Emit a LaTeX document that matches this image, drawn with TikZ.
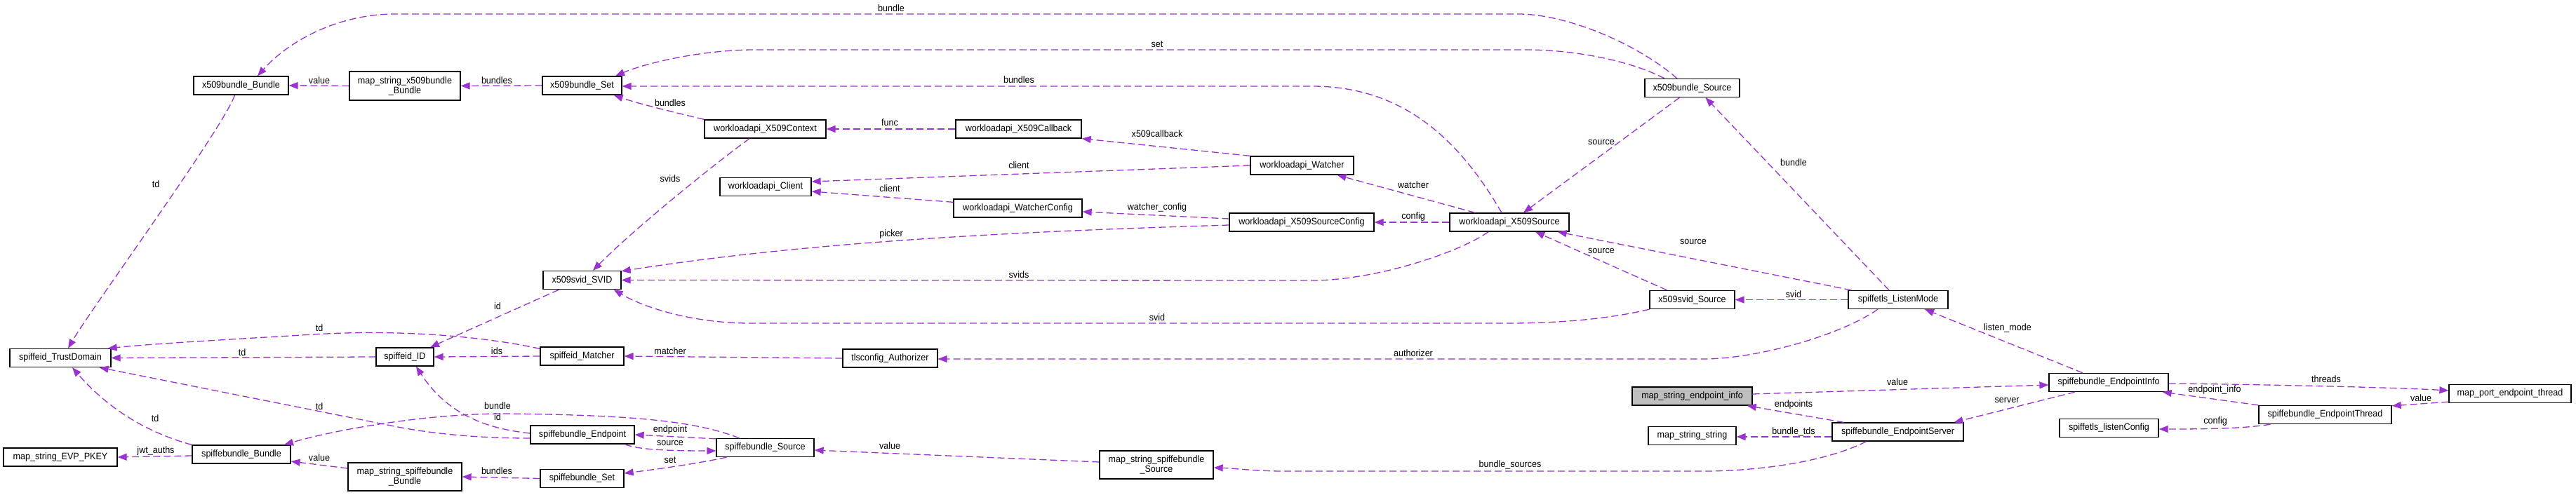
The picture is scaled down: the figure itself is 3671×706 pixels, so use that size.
\documentclass[tikz,border=0pt]{standalone}
\usepackage{fontspec}
\setmainfont{Liberation Sans}[FakeStretch=0.93]
\usetikzlibrary{arrows.meta,calc}
\definecolor{edgecol}{HTML}{9A32CD}
\definecolor{grayfill}{HTML}{BFBFBF}
\newcommand\diafont{\fontsize{13.5}{14}\selectfont}
\tikzset{
  cls/.style={draw=black, line width=1.3pt, fill=white, minimum height=26pt, inner sep=0pt, align=center, font=\diafont},
  edge/.style={draw=edgecol, line width=1.3pt, dash pattern=on 10pt off 5pt, -{Triangle[length=13pt,width=10pt,fill=edgecol]}},
  lbl/.style={inner sep=0pt, font=\diafont}
}
\begin{document}
\begin{tikzpicture}[x=1pt,y=-1pt]
\useasboundingbox (0,0) rectangle (3671,706);
% nodes
\node[cls, minimum width=135] (xbb) at (343.5,122) {x509bundle\_Bundle};
\node[cls, minimum width=158, minimum height=41] (msxb) at (577,122.5) {map\_string\_x509bundle\\\_Bundle};
\node[cls, minimum width=113] (xbs) at (829.5,122) {x509bundle\_Set};
\node[cls, minimum width=135] (xbsrc) at (2411.5,125.5) {x509bundle\_Source};
\node[cls, minimum width=173] (wctx) at (1090.5,184) {workloadapi\_X509Context};
\node[cls, minimum width=179] (wcb) at (1451.5,184) {workloadapi\_X509Callback};
\node[cls, minimum width=130] (wcl) at (1091,266.5) {workloadapi\_Client};
\node[cls, minimum width=183] (wwc) at (1450.5,297) {workloadapi\_WatcherConfig};
\node[cls, minimum width=147] (ww) at (1855.5,236) {workloadapi\_Watcher};
\node[cls, minimum width=206] (wsc) at (1855,317) {workloadapi\_X509SourceConfig};
\node[cls, minimum width=170] (wxs) at (2151,317) {workloadapi\_X509Source};
\node[cls, minimum width=111] (svid) at (829.5,399.5) {x509svid\_SVID};
\node[cls, minimum width=121] (xss) at (2411.5,427.5) {x509svid\_Source};
\node[cls, minimum width=142] (lm) at (2705,427.5) {spiffetls\_ListenMode};
\node[cls, minimum width=144] (td) at (86,510.5) {spiffeid\_TrustDomain};
\node[cls, minimum width=82] (sid) at (577,509) {spiffeid\_ID};
\node[cls, minimum width=119] (mat) at (829.5,508) {spiffeid\_Matcher};
\node[cls, minimum width=135] (auth) at (1268.5,511) {tlsconfig\_Authorizer};
\node[cls, minimum width=171, fill=grayfill] (msei) at (2411.5,565) {map\_string\_endpoint\_info};
\node[cls, minimum width=170] (sei) at (3005,545.5) {spiffebundle\_EndpointInfo};
\node[cls, minimum width=174] (mpet) at (3577,561.5) {map\_port\_endpoint\_thread};
\node[cls, minimum width=189] (set) at (3313.5,591.5) {spiffebundle\_EndpointThread};
\node[cls, minimum width=141] (slc) at (3005.5,610.5) {spiffetls\_listenConfig};
\node[cls, minimum width=148] (sep) at (830,620) {spiffebundle\_Endpoint};
\node[cls, minimum width=187] (ses) at (2704.5,616) {spiffebundle\_EndpointServer};
\node[cls, minimum width=125] (mss) at (2411.5,621.5) {map\_string\_string};
\node[cls, minimum width=139] (sbs) at (1090.5,638.5) {spiffebundle\_Source};
\node[cls, minimum width=140] (sbb) at (344,648) {spiffebundle\_Bundle};
\node[cls, minimum width=162] (mevp) at (86,652) {map\_string\_EVP\_PKEY};
\node[cls, minimum width=162, minimum height=40] (mssb) at (577,680) {map\_string\_spiffebundle\\\_Bundle};
\node[cls, minimum width=119] (sbset) at (829.5,682.5) {spiffebundle\_Set};
\node[cls, minimum width=162, minimum height=40] (msss) at (1648,663) {map\_string\_spiffebundle\\\_Source};
% edges
\draw[edge] (msxb.west) -- (xbb.east);
\draw[edge] (xbs.west) -- (msxb.east);
\draw[edge] ([xshift=-21.5]xbsrc.north) .. controls (2330,60) and (2230,20) .. (2164,20) -- (563,20) .. controls (480,20) and (410,60) .. ([xshift=23.5]xbb.north);
\draw[edge] ([xshift=-39.5]xbsrc.north) .. controls (2320,85) and (2240,71) .. (2175,71) -- (1076,71) .. controls (1000,71) and (920,90) .. ([xshift=47.5]xbs.north);
\draw[edge] ([xshift=-11]wxs.north) .. controls (2080,200) and (2000,123) .. (1870,123) -- ([yshift=-1]xbs.east);
\draw[edge] (wctx.north west) .. controls (960,160) and (910,148) .. ([xshift=-12]xbs.south east);
\draw[edge] ([xshift=-22.5]wctx.south) .. controls (1010,240) and (900,330) .. ([xshift=15.5]svid.north);
\draw[edge] (wcb.west) -- (wctx.east);
\draw[edge] (ww.north west) -- (wcb.south east);
\draw[edge] (ww.west) -- ([yshift=7.5]wcl.east);
\draw[edge] ([yshift=-5]wwc.north west) -- ([yshift=-6.5]wcl.east);
\draw[edge] ([yshift=5]wsc.west) -- ([yshift=-5]wwc.east);
\draw[edge] ([yshift=-4]wsc.west) .. controls (1450,330) and (1150,345) .. ([yshift=-1]svid.north east);
\draw[edge] ([xshift=-49]wxs.north) -- ([xshift=50]ww.south);
\draw[edge] (wxs.west) -- (wsc.east);
\draw[edge] ([xshift=-18]xbsrc.south) -- ([xshift=20]wxs.north);
\draw[edge] ([xshift=-30]wxs.south) .. controls (2080,360) and (1960,400) .. (1870,400) -- (svid.east);
\draw[edge] ([xshift=-36]xss.north) -- ([xshift=37]wxs.south);
\draw[edge] ([xshift=5]lm.north west) -- ([xshift=-17]wxs.south east);
\draw[edge] ([xshift=-13]lm.north) -- ([xshift=19]xbsrc.south);
\draw[edge] (xss.south west) .. controls (2280,458) and (2200,461) .. (2150,461) -- (1070,461) .. controls (990,461) and (920,440) .. ([xshift=-11]svid.south east);
\draw[edge] (lm.west) -- (xss.east);
\draw[edge] ([xshift=-29]lm.south) .. controls (2620,480) and (2500,512) .. (2428,512) -- ([yshift=-1]auth.east);
\draw[edge] (auth.west) -- (mat.east);
\draw[edge] (mat.west) -- (sid.east);
\draw[edge] ([yshift=-3]mat.north west) .. controls (680,478) and (560,470) .. (446,477) .. controls (330,484) and (220,490) .. ([xshift=-5]td.north east);
\draw[edge] (sid.west) -- (td.east);
\draw[edge] ([xshift=-33]svid.south) -- ([xshift=36]sid.north);
\draw[edge] ([yshift=-5]sep.west) .. controls (690,625) and (620,620) .. (557,607) -- ([xshift=-17]td.south east);
\draw[edge] (sbb.north west) .. controls (220,620) and (160,590) .. ([xshift=17]td.south);
\draw[edge] ([yshift=2]sep.west) .. controls (700,612) and (640,595) .. ([xshift=16]sid.south);
\draw[edge] ([xshift=-37]sbs.north) .. controls (990,600) and (900,592) .. (720,590) .. controls (600,590) and (470,615) .. ([xshift=61]sbb.north);
\draw[edge] ([yshift=-2]sbb.west) -- (mevp.east);
\draw[edge] ([yshift=12]mssb.west) -- ([yshift=-10]sbb.east);
\draw[edge] (sbset.west) -- (mssb.east);
\draw[edge] ([yshift=-1]sbs.north west) -- (sep.east);
\draw[edge] ([xshift=-14]sep.south east) .. controls (910,642) and (960,643) .. ([yshift=-4.5]sbs.west);
\draw[edge] ([xshift=-55]sbs.south) .. controls (990,662) and (930,670) .. ([yshift=7.5]sbset.east);
\draw[edge] ([yshift=4]msss.west) -- ([yshift=-3.5]sbs.east);
\draw[edge] ([xshift=-45]ses.south) .. controls (2600,660) and (2500,672) .. (2428,672) -- (1830,672) .. controls (1790,672) and (1760,668) .. ([yshift=-4]msss.east);
\draw[edge] ([xshift=-77]ses.north) -- ([xshift=-8]msei.south east);
\draw[edge] ([yshift=-7]ses.west) -- ([yshift=-1.5]mss.east);
\draw[edge] ([yshift=3]msei.east) -- ([yshift=-3.5]sei.west);
\draw[edge] ([xshift=-48]sei.south) -- ([xshift=80]ses.north);
\draw[edge] ([xshift=-37]sei.north) -- ([xshift=38]lm.south);
\draw[edge] ([yshift=-1.5]sei.east) .. controls (3200,548) and (3400,552) .. ([yshift=4.5]mpet.west);
\draw[edge] (set.north west) -- ([xshift=-9]sei.south east);
\draw[edge] ([yshift=2]mpet.south west) -- ([yshift=-1]set.north east);
\draw[edge] ([xshift=-78]set.south) .. controls (3200,611) and (3150,612) .. ([yshift=-1.5]slc.east);
\draw[edge] ([xshift=-9]xbb.south) .. controls (320,180) and (130,440) .. ([xshift=11]td.north);
% labels
\node[lbl] (l1) at (455,115) {value};
\node[lbl] (l2) at (708,115) {bundles};
\node[lbl] (l3) at (1270,12) {bundle};
\node[lbl] (l4) at (1649,63) {set};
\node[lbl] (l5) at (1452,114) {bundles};
\node[lbl] (l6) at (955,147) {bundles};
\node[lbl] (l7) at (955,255) {svids};
\node[lbl] (l8) at (1268,175) {func};
\node[lbl] (l9) at (1649,191) {x509callback};
\node[lbl] (l10) at (1452,236) {client};
\node[lbl] (l11) at (1268,269) {client};
\node[lbl] (l12) at (1649,296) {watcher\_config};
\node[lbl] (l13) at (1270,334) {picker};
\node[lbl] (l14) at (2014,264) {watcher};
\node[lbl] (l15) at (2014,309) {config};
\node[lbl] (l16) at (2282,203) {source};
\node[lbl] (l17) at (1452,392) {svids};
\node[lbl] (l18) at (2282,358) {source};
\node[lbl] (l19) at (2413,345) {source};
\node[lbl] (l20) at (2556,232) {bundle};
\node[lbl] (l21) at (1649,453) {svid};
\node[lbl] (l22) at (2556,420) {svid};
\node[lbl] (l23) at (2014,504) {authorizer};
\node[lbl] (l24) at (955,501) {matcher};
\node[lbl] (l25) at (708,501) {ids};
\node[lbl] (l26) at (455,468) {td};
\node[lbl] (l27) at (345,503) {td};
\node[lbl] (l28) at (709,437) {id};
\node[lbl] (l29) at (455,580) {td};
\node[lbl] (l30) at (221,597) {td};
\node[lbl] (l31) at (709,595) {id};
\node[lbl] (l32) at (709,579) {bundle};
\node[lbl] (l33) at (222,643) {jwt\_auths};
\node[lbl] (l34) at (455,653) {value};
\node[lbl] (l35) at (708,672) {bundles};
\node[lbl] (l36) at (955,613) {endpoint};
\node[lbl] (l37) at (955,632) {source};
\node[lbl] (l38) at (955,656) {set};
\node[lbl] (l39) at (1268,636) {value};
\node[lbl] (l40) at (2152,663) {bundle\_sources};
\node[lbl] (l41) at (2556,577) {endpoints};
\node[lbl] (l42) at (2556,616) {bundle\_tds};
\node[lbl] (l43) at (2704,545) {value};
\node[lbl] (l44) at (2860,571) {server};
\node[lbl] (l45) at (2861,468) {listen\_mode};
\node[lbl] (l46) at (3315,541) {threads};
\node[lbl] (l47) at (3156,556) {endpoint\_info};
\node[lbl] (l48) at (3450,568) {value};
\node[lbl] (l49) at (3157,601) {config};
\node[lbl] (l50) at (222,263) {td};
\end{tikzpicture}
\end{document}
